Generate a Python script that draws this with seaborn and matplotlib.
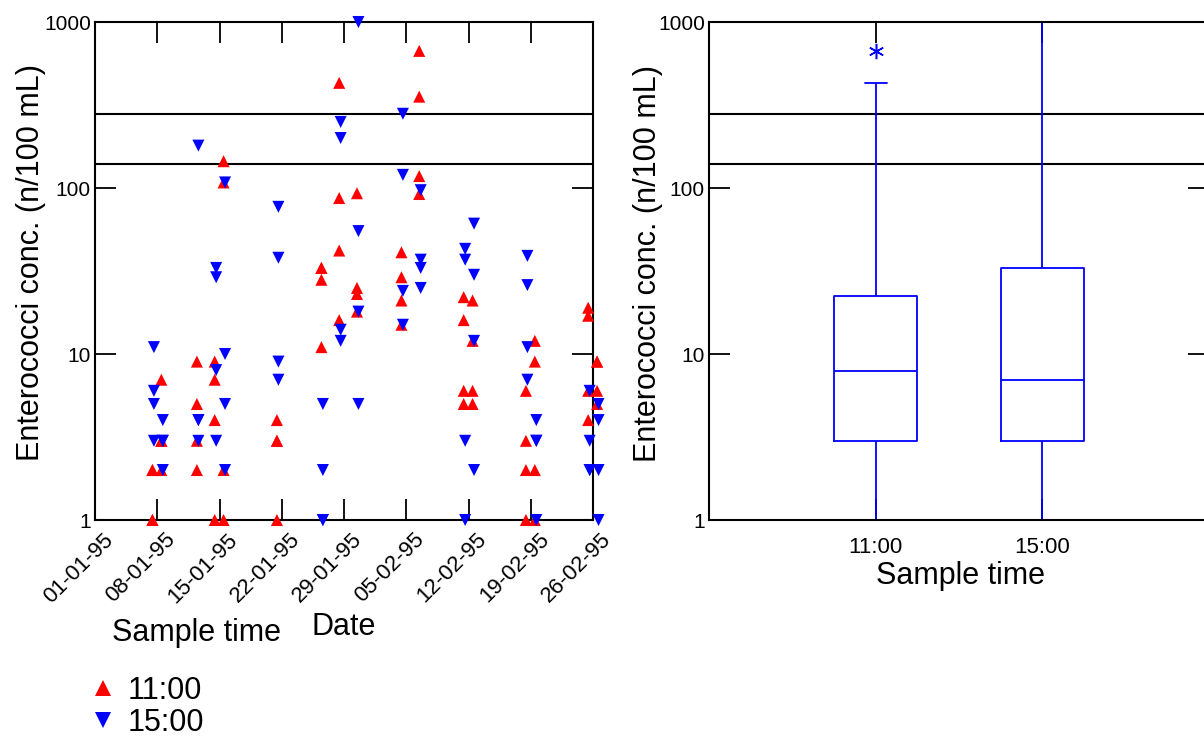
import numpy as np
import pandas as pd
import matplotlib
matplotlib.use("Agg")
import matplotlib.pyplot as plt
import matplotlib.dates as mdates
import matplotlib.transforms as mtrans
from matplotlib.ticker import NullLocator
import seaborn as sns

# Sampling dates (four sites sampled at each time on every date)
sample_dates = ["1995-01-07", "1995-01-08", "1995-01-12", "1995-01-14", "1995-01-15",
                "1995-01-21", "1995-01-26", "1995-01-28", "1995-01-30", "1995-02-04",
                "1995-02-06", "1995-02-11", "1995-02-12", "1995-02-18", "1995-02-19",
                "1995-02-25", "1995-02-26"]

# Enterococci counts (n/100 mL) at 11:00
conc_1100 = [[2, 1, 2, 1], [7, 3, 2, 3], [9, 5, 3, 2], [9, 7, 4, 1], [145, 108, 2, 1],
             [4, 3, 1, 3], [33, 28, 11, 33], [430, 87, 42, 16], [93, 25, 23, 18],
             [41, 29, 21, 15], [670, 355, 118, 92], [22, 16, 6, 5], [21, 12, 6, 5],
             [6, 3, 2, 1], [12, 9, 2, 1], [19, 17, 6, 4], [9, 6, 5, 9]]

# Enterococci counts (n/100 mL) at 15:00
conc_1500 = [[11, 6, 5, 3], [4, 3, 2, 3], [180, 4, 3, 4], [33, 29, 8, 3], [108, 10, 5, 2],
             [77, 38, 9, 7], [5, 2, 1, 1], [250, 200, 14, 12], [1000, 55, 18, 5],
             [280, 120, 24, 15], [97, 37, 33, 25], [43, 37, 3, 1], [61, 30, 12, 2],
             [39, 26, 11, 7], [4, 3, 1, 3], [6, 3, 2, 2], [5, 4, 2, 1]]

sample_times = ["11:00", "15:00"]
sample_hours = [11, 15]
guideline_levels = [140, 280]
y_ticks = [1, 10, 100, 1000]
y_tick_labels = ["1", "10", "100", "1000"]
date_ticks = pd.date_range("1995-01-01", "1995-02-26", freq="7D")

rows = []
for label, hour, series in zip(sample_times, sample_hours, [conc_1100, conc_1500]):
    for day, values in zip(sample_dates, series):
        stamp = pd.Timestamp(day) + pd.Timedelta(hours=hour)
        for v in values:
            rows.append((stamp, label, v))
df = pd.DataFrame(rows, columns=["Date", "Sample time", "Conc"])

sns.set_style("ticks")
plt.rcParams["font.family"] = ["Liberation Sans", "DejaVu Sans"]
plt.rcParams["text.color"] = "black"
plt.rcParams["axes.labelcolor"] = "black"
plt.rcParams["xtick.color"] = "black"
plt.rcParams["ytick.color"] = "black"

W, H = 1204, 737
fig = plt.figure(figsize=(W / 100, H / 100), dpi=100)
ax1 = fig.add_axes([95 / W, 1 - 520 / H, 498 / W, 498 / H])
ax2 = fig.add_axes([709 / W, 1 - 520 / H, 500 / W, 498 / H])

palette = {"11:00": "#ff0000", "15:00": "#0000ff"}
markers = {"11:00": "^", "15:00": "v"}

# Time series of individual samples
sns.scatterplot(data=df, x="Date", y="Conc", hue="Sample time", style="Sample time",
                hue_order=sample_times, style_order=sample_times,
                palette=palette, markers=markers, s=75, linewidth=0,
                ax=ax1, clip_on=False, zorder=3)
ax1.set_yscale("log")
ax1.set_ylim(1, 1000)
ax1.set_xlim(pd.Timestamp("1995-01-01"), pd.Timestamp("1995-02-26"))
ax1.set_xticks(date_ticks)
ax1.xaxis.set_major_formatter(mdates.DateFormatter("%d-%m-%y"))

# Distribution per sample time
sns.boxplot(data=df, x="Sample time", y="Conc", order=sample_times, log_scale=True,
            fill=False, color="#0000ff", width=0.5, linewidth=1.3, whis=1.5,
            capwidths=0.13,
            flierprops=dict(marker=(6, 2, 0), markersize=11, markeredgewidth=1.1,
                            markeredgecolor="#0000ff"),
            ax=ax2)
ax2.set_xlim(-1, 2)
ax2.set_ylim(1, 1000)

for ax in (ax1, ax2):
    for lvl in guideline_levels:
        ax.axhline(lvl, color="black", lw=1.5, zorder=1)
    ax.set_yticks(y_ticks)
    ax.set_yticklabels(y_tick_labels)
    ax.yaxis.set_minor_locator(NullLocator())
    ax.xaxis.set_minor_locator(NullLocator())
    ax.tick_params(which="both", direction="in", length=15, width=1.3,
                   top=True, right=True, labelsize=15, color="black",
                   labelcolor="black")
    ax.tick_params(axis="y", pad=3)
    for sp in ax.spines.values():
        sp.set_visible(True)
        sp.set_linewidth(1.5)
        sp.set_color("black")
    ax.set_ylabel("Enterococci conc. (n/100 mL)", fontsize=22, color="black")

ax2.tick_params(axis="x", pad=12, labelsize=16)
ax1.tick_params(axis="x", pad=12, labelsize=16)

# Rotated date labels
offset = mtrans.ScaledTranslation(0.15, 0, fig.dpi_scale_trans)
for lbl in ax1.get_xticklabels():
    lbl.set_rotation(45)
    lbl.set_ha("right")
    lbl.set_va("center")
    lbl.set_rotation_mode("anchor")
    lbl.set_transform(lbl.get_transform() + offset)

ax1.set_xlabel("Date", fontsize=22, color="black")
ax2.set_xlabel("Sample time", fontsize=22, color="black")
ax1.xaxis.set_label_coords(0.5, -0.185)
ax2.xaxis.set_label_coords(0.504, -0.082)
ax1.yaxis.set_label_coords(-0.098, 0.518)
ax2.yaxis.set_label_coords(-0.092, 0.515)

# Legend below the time-series panel
handles, labels = ax1.get_legend_handles_labels()
if ax1.get_legend() is not None:
    ax1.get_legend().remove()
pairs = [(h, l) for h, l in zip(handles, labels) if l in sample_times]
fig.legend([p[0] for p in pairs], [p[1] for p in pairs], loc="upper left",
           bbox_to_anchor=(88 / W, 1 - 676 / H), frameon=False, fontsize=22,
           markerscale=1.4, handletextpad=0.3, labelspacing=0.05, borderpad=0,
           borderaxespad=0, handlelength=1.0)
fig.text(112 / W, 1 - 633 / H, "Sample time", fontsize=22, va="center", ha="left",
         color="black")

fig.savefig("out.png", dpi=100)
